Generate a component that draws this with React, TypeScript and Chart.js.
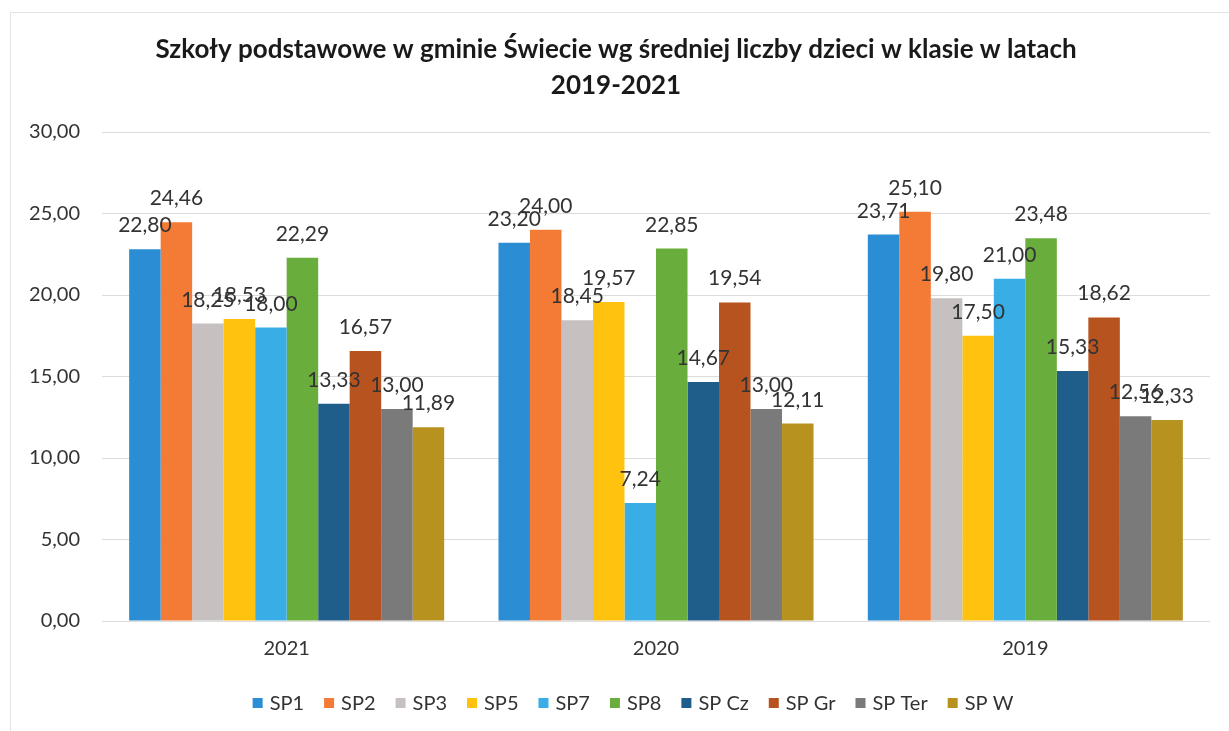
import React, { useEffect, useRef } from 'react';
import { Chart, registerables } from 'chart.js';

Chart.register(...registerables);

const titleLines = [
  'Szkoły podstawowe w gminie Świecie wg średniej liczby dzieci w klasie w latach',
  '2019-2021',
];
const categories = ['2021', '2020', '2019'];
const seriesNames = ['SP1', 'SP2', 'SP3', 'SP5', 'SP7', 'SP8', 'SP Cz', 'SP Gr', 'SP Ter', 'SP W'];
const sp1 = [22.8, 23.2, 23.71];
const sp2 = [24.46, 24.0, 25.1];
const sp3 = [18.25, 18.45, 19.8];
const sp5 = [18.53, 19.57, 17.5];
const sp7 = [18.0, 7.24, 21.0];
const sp8 = [22.29, 22.85, 23.48];
const spCz = [13.33, 14.67, 15.33];
const spGr = [16.57, 19.54, 18.62];
const spTer = [13.0, 13.0, 12.56];
const spW = [11.89, 12.11, 12.33];
const seriesValues = [sp1, sp2, sp3, sp5, sp7, sp8, spCz, spGr, spTer, spW];
const seriesColors = [
  '#2B8DD4', '#F47B35', '#C6C0C0', '#FFC20E', '#38ADE6',
  '#69AE3C', '#1F5D8A', '#B7531E', '#7A7A7A', '#B8921E',
];
const yTicks = [0, 5, 10, 15, 20, 25, 30];

const FONT = 'Lato, "Noto Sans", sans-serif';
const fmt = (v: number) => v.toFixed(2).replace('.', ',');

const decorPlugin = {
  id: 'decor',
  afterDatasetsDraw(chart: any) {
    const ctx = chart.ctx;
    ctx.save();
    ctx.font = `21px ${FONT}`;
    ctx.fillStyle = '#333333';
    ctx.textAlign = 'center';
    ctx.textBaseline = 'alphabetic';
    chart.data.datasets.forEach((ds: any, i: number) => {
      const meta = chart.getDatasetMeta(i);
      meta.data.forEach((bar: any, j: number) => {
        ctx.fillText(fmt(ds.data[j]), bar.x, bar.y - 17);
      });
    });
    ctx.restore();
  },
  afterDraw(chart: any) {
    const ctx = chart.ctx;
    ctx.save();
    ctx.strokeStyle = '#e4e4e4';
    ctx.lineWidth = 1;
    ctx.beginPath();
    ctx.moveTo(10.5, 731);
    ctx.lineTo(10.5, 12.5);
    ctx.lineTo(1229, 12.5);
    ctx.stroke();
    // title
    ctx.fillStyle = '#1a1a1a';
    ctx.font = `bold 26px ${FONT}`;
    ctx.textAlign = 'center';
    ctx.textBaseline = 'middle';
    ctx.fillText(titleLines[0], 616, 50);
    ctx.fillText(titleLines[1], 616, 86);
    // legend
    ctx.font = `20px ${FONT}`;
    const box = 10, gapBox = 7, gapItem = 20;
    const widths = chart.data.datasets.map((d: any) => ctx.measureText(d.label).width);
    const total = widths.reduce((a: number, w: number) => a + box + gapBox + w, 0) + gapItem * (widths.length - 1);
    let x = 633 - total / 2;
    const cy = 703;
    ctx.textAlign = 'left';
    ctx.textBaseline = 'middle';
    chart.data.datasets.forEach((d: any, i: number) => {
      ctx.fillStyle = d.backgroundColor;
      ctx.fillRect(x, cy - box / 2, box, box);
      ctx.fillStyle = '#333333';
      ctx.fillText(d.label, x + box + gapBox, cy + 1);
      x += box + gapBox + widths[i] + gapItem;
    });
    ctx.restore();
  },
};

export default function App() {
  const ref = useRef<HTMLCanvasElement | null>(null);
  useEffect(() => {
    document.body.style.margin = '0';
    const canvas = ref.current!;
    const chart = new Chart(canvas, {
      type: 'bar',
      data: {
        labels: categories,
        datasets: seriesNames.map((name, i) => ({
          label: name,
          data: seriesValues[i],
          backgroundColor: seriesColors[i],
          borderWidth: 0,
          barPercentage: 1,
          categoryPercentage: 0.853,
        })),
      },
      options: {
        animation: false,
        responsive: false,
        maintainAspectRatio: false,
        layout: { padding: { top: 132, bottom: 60, left: 0, right: 19 } },
        plugins: {
          legend: { display: false },
          title: { display: false },
          tooltip: { enabled: false },
        },
        scales: {
          x: {
            grid: { display: false, drawTicks: false },
            border: { display: false },
            ticks: { color: '#333333', font: { family: FONT, size: 20 }, padding: 16 },
            afterFit: (s: any) => { s.height = 50; },
          },
          y: {
            min: 0,
            max: 30,
            afterBuildTicks: (s: any) => { s.ticks = yTicks.map((v) => ({ value: v })); },
            grid: { color: '#dcdcdc', drawTicks: false, lineWidth: 1 },
            border: { display: false },
            ticks: {
              color: '#333333',
              font: { family: FONT, size: 20 },
              padding: 22,
              callback: (v: any) => fmt(Number(v)),
            },
            afterFit: (s: any) => { s.width = 102; },
          },
        },
      },
      plugins: [decorPlugin],
    });
    return () => chart.destroy();
  }, []);
  return (
    <div style={{ width: 1229, height: 731, background: '#ffffff' }}>
      <canvas ref={ref} width={1229} height={731} style={{ display: 'block' }} />
    </div>
  );
}
